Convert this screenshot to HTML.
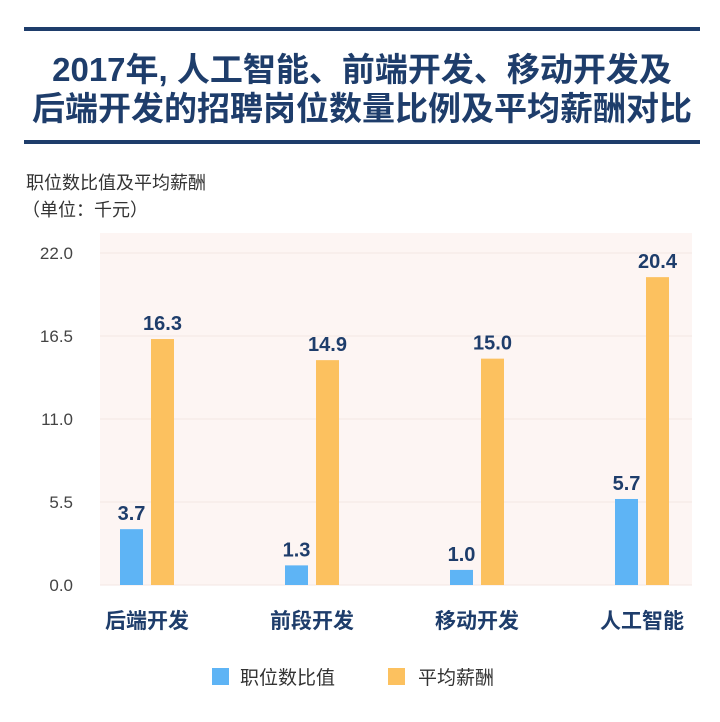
<!DOCTYPE html>
<html><head><meta charset="utf-8"><style>
body{margin:0;background:#fff;width:720px;height:717px;overflow:hidden;font-family:"Liberation Sans","Noto Sans CJK SC",sans-serif;}
</style></head><body>
<svg width="720" height="717" xmlns="http://www.w3.org/2000/svg" font-family="'Liberation Sans','Noto Sans CJK SC',sans-serif">
<rect x="24" y="27" width="676" height="4" fill="#1e3d6b"/>
<rect x="24" y="140" width="676" height="4" fill="#1e3d6b"/>
<text x="362" y="81" text-anchor="middle" font-size="33" font-weight="bold" fill="#1e3d6b">2017年, 人工智能、前端开发、移动开发及</text>
<text x="362" y="120" text-anchor="middle" font-size="33" font-weight="bold" fill="#1e3d6b">后端开发的招聘岗位数量比例及平均薪酬对比</text>
<text x="26" y="189" font-size="18" fill="#333">职位数比值及平均薪酬</text>
<text x="22" y="216" font-size="18" fill="#333">（单位：千元）</text>
<rect x="100" y="233" width="592" height="352" fill="#fdf5f3"/>
<g id="grid"></g><g id="bars"></g>
<rect x="212" y="668" width="17" height="17" fill="#5eb4f5"/>
<text x="240" y="684" font-size="19" fill="#333">职位数比值</text>
<rect x="388" y="668" width="17" height="17" fill="#fcc15f"/>
<text x="418" y="684" font-size="19" fill="#333">平均薪酬</text>
</svg>
<script>
const categories=["后端开发","前段开发","移动开发","人工智能"];
const ratioValues=[3.7,1.3,1.0,5.7];
const salaryValues=[16.3,14.9,15.0,20.4];
const yTicks=[0,5.5,11,16.5,22];
const NS="http://www.w3.org/2000/svg";
const y0=585,yTop=253,yMax=22;
const yScale=v=>y0-(v/yMax)*(y0-yTop);
const xCenter=i=>147+i*165;
const grid=document.getElementById('grid'),bars=document.getElementById('bars');
function mk(tag,attrs,parent,text){const e=document.createElementNS(NS,tag);for(const k in attrs)e.setAttribute(k,attrs[k]);if(text!==undefined)e.textContent=text;parent.appendChild(e);return e;}
yTicks.forEach(t=>{
 const l=mk('line',{x1:100,x2:692,y1:yScale(t),y2:yScale(t),stroke:'#f3e6e3','stroke-width':1},grid);
 
 
 const tx=mk('text',{x:73,y:yScale(t)+6,'text-anchor':'end','font-size':17,fill:'#444'},grid,t.toFixed(1));
 
 
});
categories.forEach((c,i)=>{
 const cx=xCenter(i);
 const bx=cx-27, ox=cx+4;
 const b=mk('rect',{x:bx,y:yScale(ratioValues[i]),width:23,height:y0-yScale(ratioValues[i]),fill:'#5eb4f5'},bars);
 
 
 const o=mk('rect',{x:ox,y:yScale(salaryValues[i]),width:23,height:y0-yScale(salaryValues[i]),fill:'#fcc15f'},bars);
 
 
 const bl=mk('text',{x:bx+11.5,y:yScale(ratioValues[i])-9,'text-anchor':'middle','font-size':20,'font-weight':'bold',fill:'#1e3d6b'},bars,ratioValues[i].toFixed(1));
 
 
 const ol=mk('text',{x:ox+11.5,y:yScale(salaryValues[i])-9,'text-anchor':'middle','font-size':20,'font-weight':'bold',fill:'#1e3d6b'},bars,salaryValues[i].toFixed(1));
 
 
 const cl=mk('text',{x:cx,y:628,'text-anchor':'middle','font-size':21,'font-weight':'bold',fill:'#1e3d6b'},bars,c);
 
 
});
</script>
</body></html>
